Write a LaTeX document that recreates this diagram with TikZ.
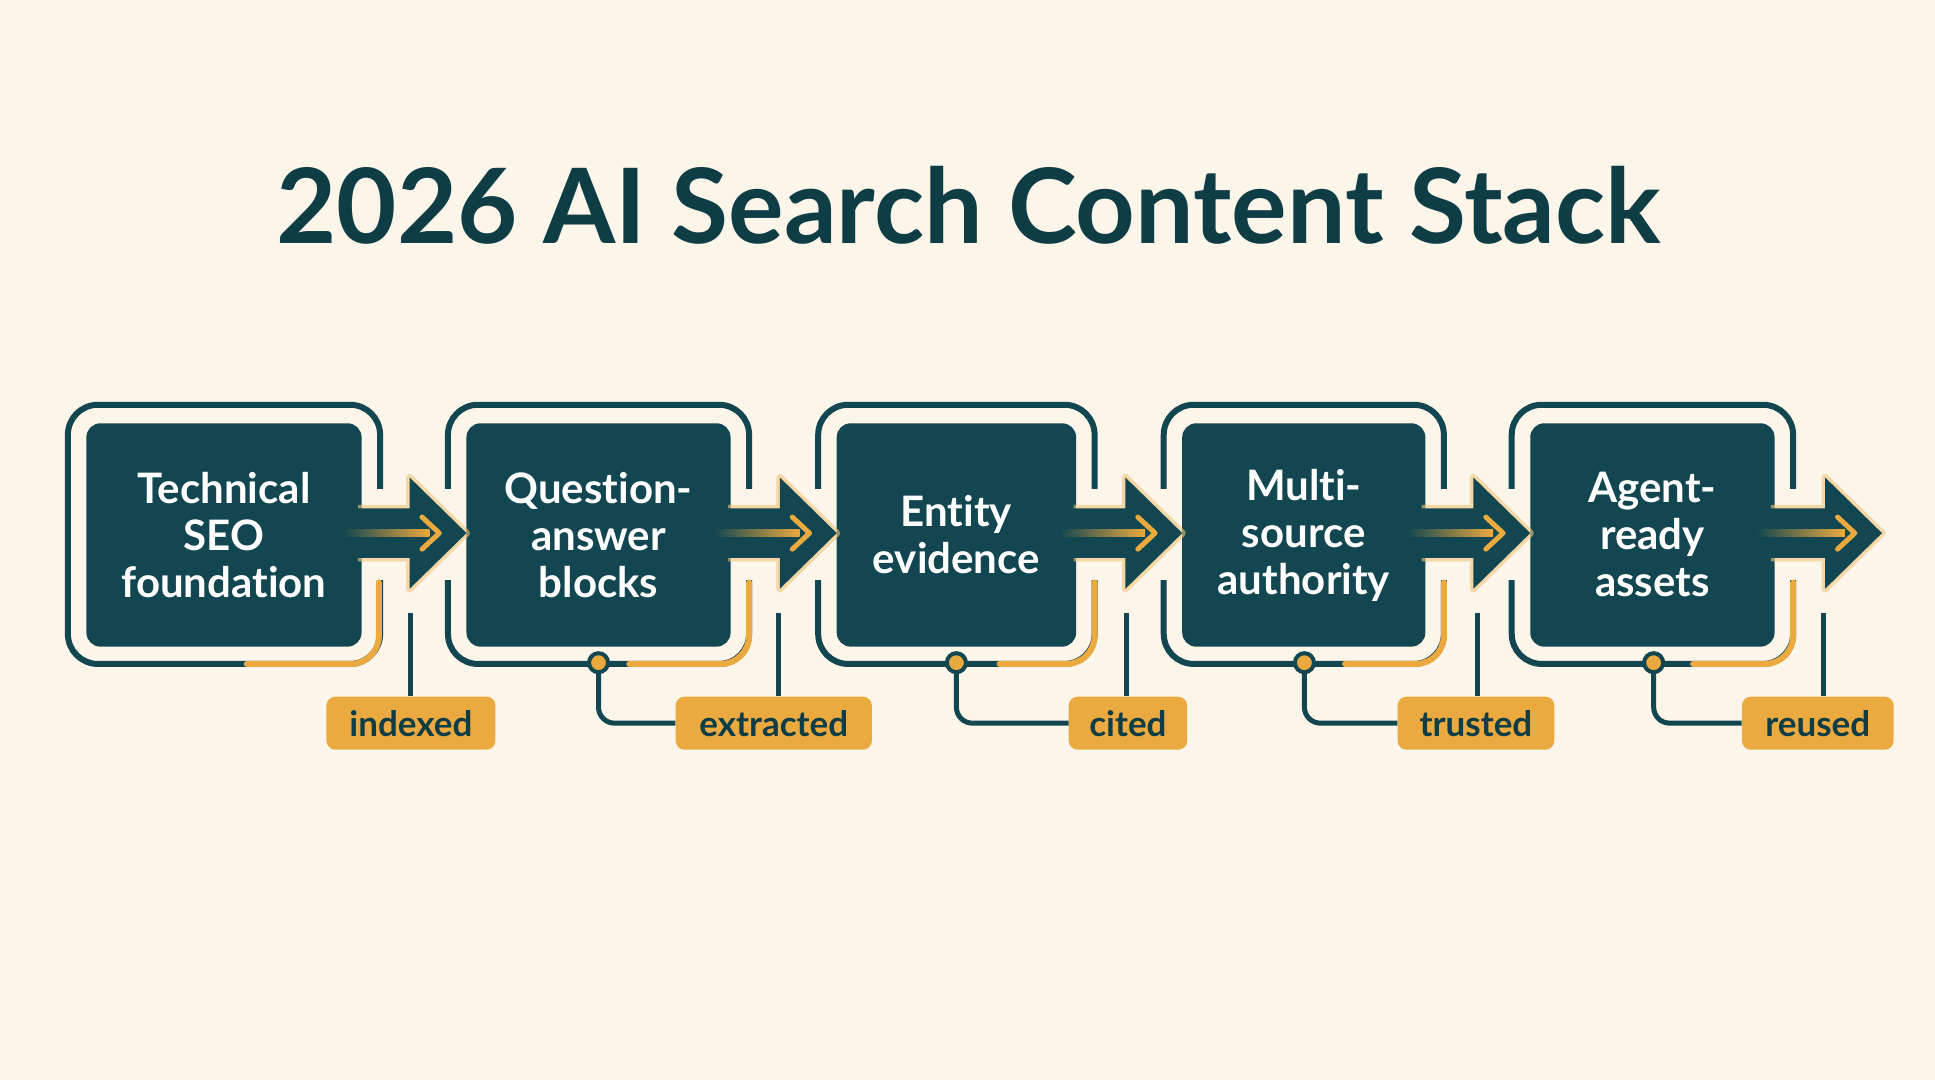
\documentclass[tikz,border=0pt]{standalone}
\usepackage{fontspec}
\setmainfont[Ligatures=NoCommon]{Lato}
\definecolor{bg}{HTML}{FBF5EA}
\definecolor{teal}{HTML}{124650}
\definecolor{org}{HTML}{EBAA3F}
\definecolor{txt}{HTML}{0F3D45}
\tikzset{
 stepbox/.style={fill=teal,rounded corners=14pt,text=white,font=\fontsize{42}{47}\selectfont\bfseries,align=center,inner sep=0},
 tag/.style={fill=org,rounded corners=9pt,text=txt,font=\fontsize{35}{40}\selectfont\bfseries,inner sep=0},
 frame/.style={draw=teal,line width=6pt,rounded corners=30pt},
 link/.style={draw=teal,line width=5pt},
 olink/.style={draw=org,line width=5pt,line cap=round},
}
\begin{document}
\begin{tikzpicture}[x=1.234pt,y=-1.234pt]
\fill[bg] (0,0) rectangle (1568,875);
\node[font=\fontsize{104}{110}\selectfont\bfseries,text=txt] (title) at (785,166) {2026 AI Search Content Stack};
\def\boxes{70/293/1,378/592/2,678/872/3,958/1155/4,1240/1438/5}
\foreach \l/\r/\i in \boxes {
  \draw[frame] (\l-15,328) rectangle (\r+15,538);
  \fill[bg] (\r+5,396) rectangle (\r+25,470);
  \ifnum\i>1 \fill[bg] (\l-25,396) rectangle (\l-5,470); \fi
}
\draw[olink,line width=6pt,rounded corners=28pt] (200,538) -- (307,538) -- (307,472);
\foreach \l/\r in {378/592,678/872,958/1155,1240/1438}
  \draw[olink,line width=6pt,rounded corners=28pt] (\l+132,538) -- (\r+15,538) -- (\r+15,472);
\foreach \l/\r/\i in \boxes {
  \node[stepbox,minimum width=(\r-\l)*1.234pt,minimum height=181*1.234pt] (b\i) at ({(\l+\r)/2},433.5) {};
}
\node[stepbox,text width=220pt] at (b1) {Technical\\SEO\\foundation};
\node[stepbox,text width=220pt] at (b2) {Question-\\answer\\blocks};
\node[stepbox,text width=220pt] at (b3) {Entity\\evidence};
\node[stepbox,text width=220pt] at (b4) {Multi-\\source\\authority};
\node[stepbox,text width=220pt] at (b5) {Agent-\\ready\\assets};
\foreach \s/\e in {290/378,590/678,870/958,1152/1240,1435/1525} {
  \draw[org!70,line width=7pt,line join=round,opacity=0.6] (\s,412) -- (\e-46,412) -- (\e-46,387) -- (\e,432) -- (\e-46,477) -- (\e-46,452) -- (\s,452);
  \fill[teal] (\s-4,412) -- (\e-46,412) -- (\e-46,387) -- (\e,432) -- (\e-46,477) -- (\e-46,452) -- (\s-4,452) -- cycle;
  \shade[left color=teal,right color=org] (\s-12,429) rectangle (\e-30,435);
  \draw[org,line width=5pt,line cap=round,line join=round] (\e-36,419) -- (\e-22,432) -- (\e-36,445);
}
\node[tag,minimum width=137*1.234pt,minimum height=43*1.234pt] (l1) at (333,586) {indexed};
\node[tag,minimum width=159*1.234pt,minimum height=43*1.234pt] (l2) at (627,586) {extracted};
\node[tag,minimum width=96*1.234pt,minimum height=43*1.234pt] (l3) at (914,586) {cited};
\node[tag,minimum width=127*1.234pt,minimum height=43*1.234pt] (l4) at (1196,586) {trusted};
\node[tag,minimum width=123*1.234pt,minimum height=43*1.234pt] (l5) at (1473,586) {reused};
\foreach \i/\x in {1/333,2/631,3/913,4/1197,5/1478} {
  \coordinate (t\i) at (\x,497);
  \draw[link] (t\i) -- (t\i |- l\i.north);
}
\foreach \i/\x in {2/485,3/775,4/1057,5/1340} {
  \node[circle,fill=org,draw=teal,line width=4pt,minimum size=19pt,inner sep=0] (c\i) at (\x,537) {};
  \draw[link,rounded corners=16pt] (c\i.south) -- (\x,586) -- (l\i.west);
}
\end{tikzpicture}
\end{document}
